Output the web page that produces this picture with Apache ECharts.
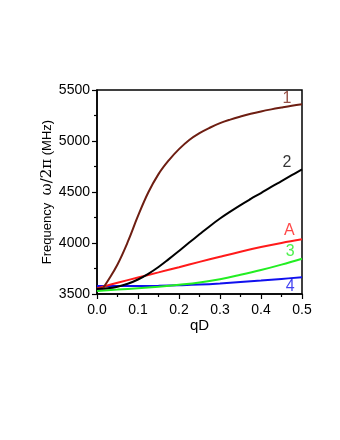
<!DOCTYPE html>
<html>
<head>
<meta charset="utf-8">
<script src="https://cdn.jsdelivr.net/npm/echarts@6/dist/echarts.min.js"></script>
<style>
  html, body { margin: 0; padding: 0; background: #fff; }
  #main { width: 340px; height: 440px; }
</style>
</head>
<body>
<div id="main"></div>
<script>
// dispersion branches, [qD, frequency MHz]
var branch1 = [[0.015, 3560], [0.025, 3620], [0.05, 3790], [0.075, 4010], [0.1, 4265], [0.125, 4495],
  [0.15, 4675], [0.175, 4810], [0.2, 4920], [0.225, 5010], [0.25, 5077], [0.275, 5130], [0.3, 5175],
  [0.325, 5210], [0.35, 5240], [0.375, 5267], [0.4, 5290], [0.425, 5310], [0.45, 5328], [0.475, 5345], [0.5, 5360]];
var branch2 = [[0, 3550], [0.025, 3556], [0.05, 3572], [0.075, 3600], [0.1, 3642], [0.125, 3698], [0.15, 3765],
  [0.175, 3842], [0.2, 3922], [0.225, 4004], [0.25, 4085], [0.275, 4165], [0.3, 4240], [0.325, 4308],
  [0.35, 4372], [0.375, 4432], [0.4, 4490], [0.425, 4550], [0.45, 4607], [0.475, 4665], [0.5, 4722]];
var branchA = [[0, 3555], [0.05, 3610], [0.1, 3662], [0.15, 3712], [0.2, 3763], [0.25, 3815], [0.3, 3866],
  [0.35, 3915], [0.4, 3960], [0.45, 4000], [0.5, 4036]];
var branch3 = [[0, 3530], [0.05, 3543], [0.1, 3557], [0.15, 3572], [0.2, 3590], [0.25, 3612], [0.3, 3645],
  [0.35, 3688], [0.4, 3735], [0.45, 3788], [0.5, 3846]];
var branch4 = [[0, 3578], [0.05, 3578], [0.1, 3578], [0.15, 3580], [0.2, 3585], [0.25, 3592], [0.3, 3603],
  [0.35, 3617], [0.4, 3632], [0.45, 3648], [0.5, 3664]];

var branchNames = ['1', '2', 'A', '3', '4'];
var branchColors = ['#6e1e12', '#000000', '#ff1a1a', '#22ee22', '#1010ee'];
var labelColors = ['#7a2418', '#000000', '#ff1a1a', '#22ee22', '#1010ee'];
var labelPos = [[0.463, 5420], [0.463, 4785], [0.469, 4118], [0.471, 3915], [0.471, 3575]];

var xTicks = [0, 0.1, 0.2, 0.3, 0.4, 0.5];
var yTicks = [3500, 4000, 4500, 5000, 5500];

var chart = echarts.init(document.getElementById('main'));

var series = [branch1, branch2, branchA, branch3, branch4].map(function (d, i) {
  return {
    type: 'line',
    data: d,
    smooth: 0.4,
    showSymbol: false,
    lineStyle: { color: branchColors[i], width: 2 },
    z: 10 - i
  };
});

series.push({
  type: 'scatter',
  symbolSize: 0,
  data: labelPos.map(function (p, i) {
    return {
      value: p,
      label: { show: true, formatter: branchNames[i], color: labelColors[i] }
    };
  }),
  label: {
    show: true,
    position: 'inside',
    fontFamily: 'Liberation Sans',
    fontSize: 16
  },
  silent: true
});

chart.setOption({
  animation: false,
  grid: {
    left: 97, top: 90, right: 38, bottom: 146,
    show: true, borderColor: '#000', borderWidth: 1.5
  },
  xAxis: {
    type: 'value',
    min: xTicks[0], max: xTicks[xTicks.length - 1], interval: 0.1,
    name: 'qD',
    nameLocation: 'middle',
    nameGap: 24,
    nameTextStyle: { fontFamily: 'Liberation Sans', fontSize: 15, color: '#000' },
    axisLine: { lineStyle: { color: '#000', width: 1.5 } },
    axisTick: { inside: false, length: 5, lineStyle: { color: '#000', width: 1.2 } },
    minorTick: { show: true, splitNumber: 2, length: 3, lineStyle: { color: '#000', width: 1.2 } },
    splitLine: { show: false },
    axisLabel: {
      fontFamily: 'Liberation Sans', fontSize: 14, color: '#000', margin: 9,
      formatter: function (v) { return v.toFixed(1); }
    }
  },
  yAxis: {
    type: 'value',
    min: yTicks[0], max: yTicks[yTicks.length - 1], interval: 500,
    name: 'Frequency  {g|ω/2π} (MHz)',
    nameLocation: 'middle',
    nameGap: 42,
    nameMoveOverlap: false,
    nameRotate: 90,
    nameTextStyle: {
      fontFamily: 'Liberation Sans', fontSize: 13, color: '#000',
      rich: { g: { fontFamily: 'DejaVu Serif', fontSize: 15, color: '#000' } }
    },
    axisLine: { lineStyle: { color: '#000', width: 1.5 } },
    axisTick: { inside: false, length: 5, lineStyle: { color: '#000', width: 1.2 } },
    minorTick: { show: true, splitNumber: 2, length: 3, lineStyle: { color: '#000', width: 1.2 } },
    splitLine: { show: false },
    axisLabel: {
      fontFamily: 'Liberation Sans', fontSize: 14, color: '#000', margin: 7,
      formatter: function (v) { return String(v); }
    }
  },
  series: series
});
</script>
</body>
</html>
